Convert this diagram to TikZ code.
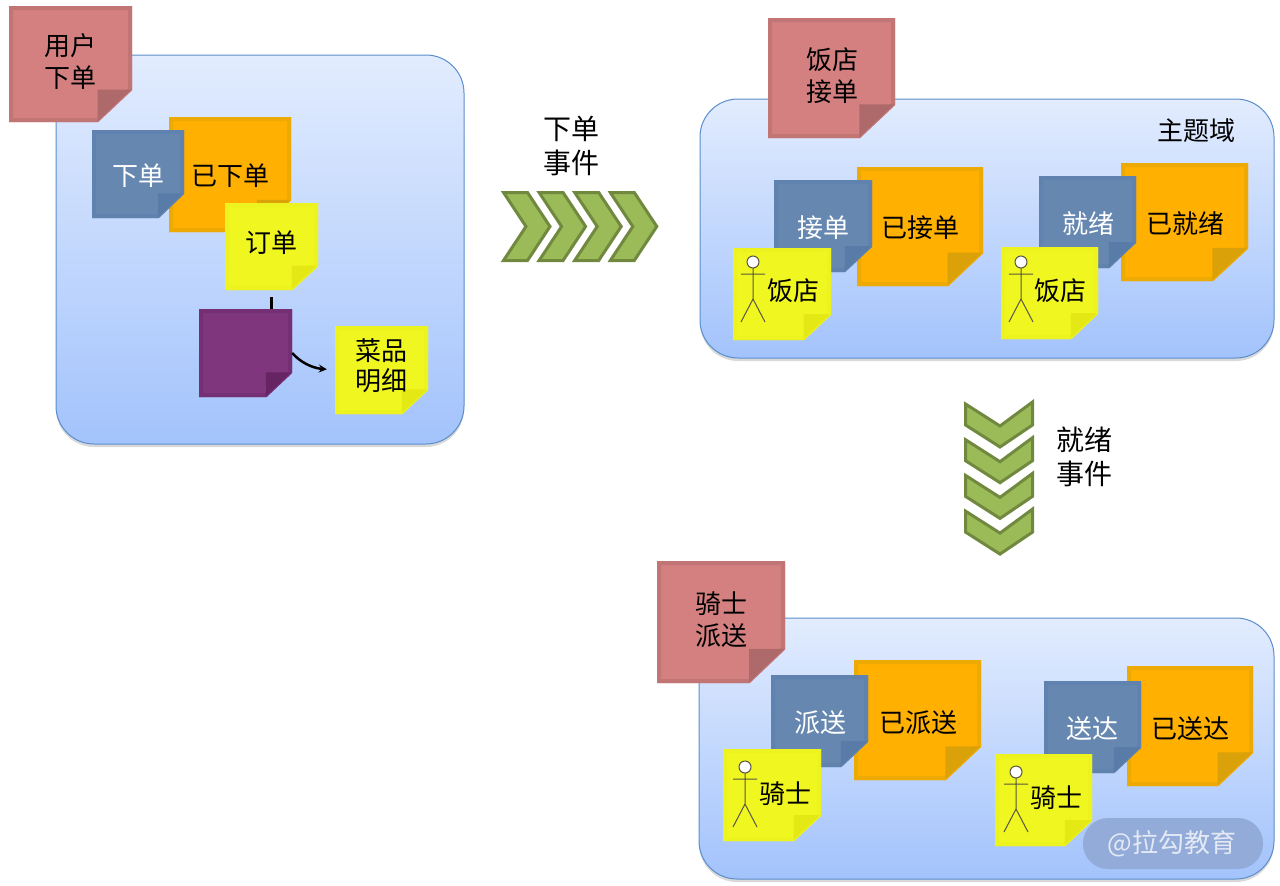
\documentclass[tikz,border=0pt]{standalone}
\usepackage{fontspec}
\setmainfont{Noto Sans CJK SC}
\usetikzlibrary{shadows}

\definecolor{redpaper}{HTML}{D48080}
\definecolor{redline}{HTML}{C27575}
\definecolor{redfold}{HTML}{AE6A6A}
\definecolor{bluepaper}{HTML}{6688B0}
\definecolor{blueline}{HTML}{5F83AE}
\definecolor{bluefold}{HTML}{587BA8}
\definecolor{orangepaper}{HTML}{FFB000}
\definecolor{orangeline}{HTML}{EEAA04}
\definecolor{orangefold}{HTML}{DBA108}
\definecolor{yellowpaper}{HTML}{F0F620}
\definecolor{yellowline}{HTML}{EDF31E}
\definecolor{yellowfold}{HTML}{E4E814}
\definecolor{purplepaper}{HTML}{7F367D}
\definecolor{purpleline}{HTML}{752F74}
\definecolor{purplefold}{HTML}{672463}
\definecolor{greenpaper}{HTML}{9BBB59}
\definecolor{greenline}{HTML}{71893F}
\definecolor{topictop}{HTML}{E2ECFE}
\definecolor{topicbottom}{HTML}{A3C3FC}
\definecolor{topicline}{HTML}{5B8FCC}
\definecolor{markpill}{HTML}{93ABD8}

\tikzset{
    papertext/.style={font=\fontsize{26pt}{34pt}\selectfont,align=center,inner sep=0pt},
    eventtext/.style={font=\fontsize{28pt}{34pt}\selectfont,align=center,inner sep=0pt},
    topicbox/.style={draw=topicline,line width=1pt,rounded corners=38pt,
        top color=topictop,bottom color=topicbottom,
        drop shadow={shadow xshift=0pt,shadow yshift=-3pt,opacity=.3}},
    link/.style={black,line width=2.5pt,>=stealth},
    actor/.style={black!75!yellow,line width=1pt},
}

% #1 colour #2 name #3 left #4 top #5 right #6 bottom #7,#8 text position #9 text
\newcommand{\sticky}[9]{
    \fill[#1paper] (#3,#4) -- (#5,#4) -- (#5,{#6-.28*(#6-#4)})
        -- ({#5-.28*(#5-#3)},#6) -- (#3,#6) -- cycle;
    \draw[#1line,line width=4pt] (#3+2,#4+2) -- (#5-2,#4+2) -- (#5-2,{#6-.28*(#6-#4)})
        -- ({#5-.28*(#5-#3)},#6-2) -- (#3+2,#6-2) -- cycle;
    \fill[#1fold] ({#5-.28*(#5-#3)},{#6-.28*(#6-#4)}) -- (#5-1,{#6-.28*(#6-#4)})
        -- ({#5-.28*(#5-#3)},#6-1) -- cycle;
    \node[minimum width=#5pt-#3pt,minimum height=#6pt-#4pt,inner sep=0pt] (#2) at ({(#3+#5)/2},{(#4+#6)/2}) {};
    \node[papertext] (#2-text) at (#7,#8) {#9};
}

% #1 head x #2 head y
\newcommand{\stickman}[2]{
    \draw[actor] (#1,#2+6) -- (#1,#2+37) (#1-12,#2+12) -- (#1+12,#2+12)
        (#1-12,#2+60) -- (#1,#2+37) -- (#1+12,#2+60);
    \draw[actor,fill=white] (#1,#2) circle (6pt);
}

\begin{document}
\begin{tikzpicture}[x=1pt,y=-1pt]
\useasboundingbox (0,0) rectangle (1280,886);

% user ordering
\draw[topicbox] (56,55) rectangle (464,444);
\sticky{red}{userorder}{9}{6}{132}{122}{70}{62}{用户\\[-2pt]下单}
\sticky{orange}{ordered}{169}{117}{291}{232}{230}{176}{已下单}
\sticky{blue}{order}{92}{130}{184}{218}{138}{176}{\color{white}下单}
\sticky{yellow}{orderdata}{225}{203}{318}{290}{271}{243}{订单}
\sticky{purple}{aggregate}{199}{309}{292}{397}{245}{353}{}
\sticky{yellow}{dishes}{335}{326}{428}{414}{381}{366}{菜品\\[-4pt]明细}
\draw[link,shorten <=7pt] (orderdata.south) -- (orderdata.south |- aggregate.north);
\draw[link,->,shorten >=8pt] (aggregate.east) .. controls (300,362) and (312,368) .. (dishes.west);

% first event
\foreach \i in {0,1,2,3} {
    \draw[fill=greenpaper,draw=greenline,line width=3pt,line join=miter]
        (503.5+35.6*\i,192.5) -- (527.5+35.6*\i,192.5) -- (550+35.6*\i,226.5)
        -- (527.5+35.6*\i,260.5) -- (503.5+35.6*\i,260.5) -- (526+35.6*\i,226.5) -- cycle;
}
\node[eventtext] (orderevent) at (571,146) {下单\\事件};

% restaurant
\draw[topicbox] (700,99) rectangle (1274,358);
\sticky{red}{accept}{768}{18}{895}{138}{832}{76}{饭店\\[-2pt]接单}
\node[papertext] (topic) at (1196,131) {主题域};
\sticky{orange}{accepted}{857}{167}{983}{286}{920}{228}{已接单}
\sticky{blue}{acceptcmd}{774}{180}{872}{272}{823}{228}{\color{white}接单}
\sticky{yellow}{shopa}{733}{248}{831}{340}{793}{291}{饭店}
\stickman{753}{262}
\sticky{orange}{readied}{1121}{163}{1248}{281}{1185}{224}{已就绪}
\sticky{blue}{readycmd}{1039}{176}{1136}{268}{1088}{224}{\color{white}就绪}
\sticky{yellow}{shopb}{1001}{247}{1098}{339}{1060}{291}{饭店}
\stickman{1021}{262}

% second event
\foreach \i in {0,1,2,3} {
    \draw[fill=greenpaper,draw=greenline,line width=3pt,line join=miter]
        (965.5,404+35.7*\i) -- (1000,426+35.7*\i) -- (1032.5,402+35.7*\i)
        -- (1032.5,425+35.7*\i) -- (1000,447+35.7*\i) -- (965.5,425+35.7*\i) -- cycle;
}
\node[eventtext] (readyevent) at (1084,457) {就绪\\事件};

% rider
\draw[topicbox] (699,618) rectangle (1274,879);
\sticky{red}{deliver}{657}{561}{785}{683}{721}{620}{骑士\\[-2pt]派送}
\sticky{orange}{delivering}{854}{660}{981}{780}{918}{723}{已派送}
\sticky{blue}{delivercmd}{771}{675}{868}{767}{820}{723}{\color{white}派送}
\sticky{yellow}{ridera}{723}{749}{821}{841}{785}{794}{骑士}
\stickman{745}{767}
\sticky{orange}{arrived}{1127}{666}{1253}{786}{1190}{729}{已送达}
\sticky{blue}{arrivecmd}{1044}{681}{1141}{773}{1092}{729}{\color{white}送达}
\sticky{yellow}{riderb}{995}{754}{1092}{846}{1056}{798}{骑士}
\stickman{1016}{772}

\fill[markpill,rounded corners=25pt] (1083,818) rectangle (1263,869);
\node[papertext,white,opacity=.75] (mark) at (1172,844) {@拉勾教育};
\end{tikzpicture}
\end{document}
